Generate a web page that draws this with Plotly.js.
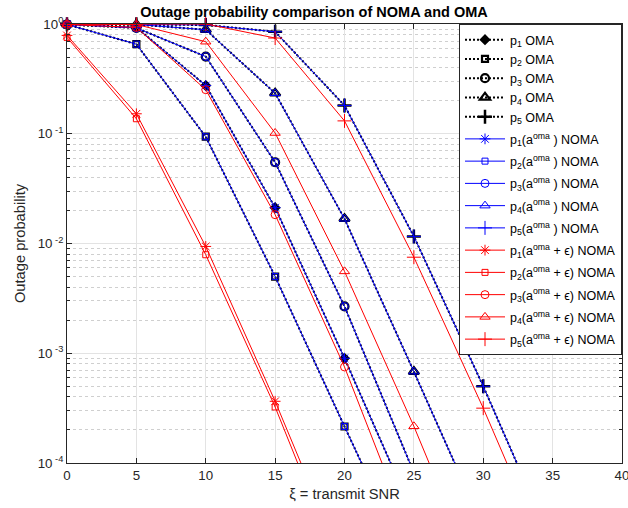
<!DOCTYPE html>
<html><head><meta charset="utf-8">
<script src="https://cdn.plot.ly/plotly-3.0.1.min.js"></script>
<style>html,body{margin:0;padding:0;background:#fff}#chart{width:628px;height:508px}</style>
</head><body><div id="chart"></div><script>
// transmit SNR (dB)
const snr = [0, 5, 10, 15, 20, 25, 30, 35];

// OMA outage probabilities (NOMA with a^oma power allocation coincides with OMA)
const omaP1 = [0.99, 0.93, 0.275, 0.0212, 9.0e-4, 3.3e-5, null, null];
const omaP2 = [0.99, 0.655, 0.094, 0.0050, 2.15e-4, 9.5e-6, null, null];
const omaP3 = [0.99, 0.92, 0.505, 0.055, 2.67e-3, 8.1e-5, 2.5e-6, null];
const omaP4 = [0.995, 0.99, 0.887, 0.234, 0.0168, 6.8e-4, 2.6e-5, null];
const omaP5 = [0.995, 0.995, 0.98, 0.85, 0.181, 0.0116, 5.0e-4, 1.8e-5];

const nomaP1 = omaP1.slice();
const nomaP2 = omaP2.slice();
const nomaP3 = omaP3.slice();
const nomaP4 = omaP4.slice();
const nomaP5 = omaP5.slice();

// NOMA with a^oma + epsilon
const epsP1 = [0.787, 0.152, 0.0094, 3.65e-4, 1.12e-5, null, null, null];
const epsP2 = [0.755, 0.137, 0.0079, 3.24e-4, 8.7e-6, null, null, null];
const epsP3 = [0.99, 0.93, 0.252, 0.0183, 7.5e-4, 1.8e-5, null, null];
const epsP4 = [0.995, 0.99, 0.69, 0.1016, 5.57e-3, 2.16e-4, 6.5e-6, null];
const epsP5 = [0.995, 0.995, 1.0, 0.745, 0.131, 7.5e-3, 3.16e-4, 1.07e-5];

const omaNames = ['p<sub>1</sub> OMA','p<sub>2</sub> OMA','p<sub>3</sub> OMA','p<sub>4</sub> OMA','p<sub>5</sub> OMA'];
const nomaNames = [1,2,3,4,5].map(i => 'p<sub>' + i + '</sub>(a<sup>oma</sup> ) NOMA');
const epsNames = [1,2,3,4,5].map(i => 'p<sub>' + i + '</sub>(a<sup>oma</sup> + ϵ) NOMA');

const xTickVals = [0, 5, 10, 15, 20, 25, 30, 35, 40];
const yTickVals = [1e-4, 1e-3, 1e-2, 1e-1, 1];
const yTickText = ['10<sup> -4</sup>','10<sup> -3</sup>','10<sup> -2</sup>','10<sup> -1</sup>','10<sup>0</sup>'];

const YMIN = 1e-4;
const minorVals = [];
for (let e = -4; e < 0; e++) for (let m = 2; m <= 9; m++) minorVals.push(m * Math.pow(10, e));

function colArr(vals, c) {
  return vals.map(v => (v != null && v >= YMIN) ? c : 'rgba(0,0,0,0)');
}
function mk(vals, name, group, lineStyle, symbol, size, color, mlw) {
  return {
    x: snr, y: vals, name: name, type: 'scatter', mode: 'lines+markers',
    legendgroup: group, cliponaxis: false,
    line: lineStyle,
    marker: { symbol: symbol, size: size, color: colArr(vals, color),
      line: { color: colArr(vals, color), width: mlw } }
  };
}

const omaSeries = [omaP1, omaP2, omaP3, omaP4, omaP5];
const nomaSeries = [nomaP1, nomaP2, nomaP3, nomaP4, nomaP5];
const epsSeries = [epsP1, epsP2, epsP3, epsP4, epsP5];

const omaSym = ['diamond','square-open','circle-open','triangle-up-open','cross-thin-open'];
const omaSize = [7, 6, 8, 9, 10];
const omaLw = [1.5, 2.2, 2.2, 2.2, 2.5];
const nomaSym = ['asterisk-open','square-open','circle-open','triangle-up-open','cross-thin-open'];
const nomaSize = [9, 6, 8, 9, 10];

const traces = [];
omaSeries.forEach((v, i) => traces.push(mk(v, omaNames[i], 'oma', {color:'#000000', width:2, dash:'2px,2px'}, omaSym[i], omaSize[i], '#000000', omaLw[i])));
nomaSeries.forEach((v, i) => traces.push(mk(v, nomaNames[i], 'noma' + i, {color:'#0000ff', width:1}, nomaSym[i], nomaSize[i], '#0000ff', 1)));
epsSeries.forEach((v, i) => traces.push(mk(v, epsNames[i], 'eps' + i, {color:'#ff0000', width:1}, nomaSym[i], nomaSize[i], '#ff0000', 1)));

const FONT = 'Liberation Sans, Arial, sans-serif';
const axCol = '#262626';
const layout = {
  width: 628, height: 508,
  margin: {l: 67, r: 6, t: 24, b: 45},
  paper_bgcolor: '#ffffff', plot_bgcolor: '#ffffff',
  font: {family: FONT, size: 13, color: axCol},
  showlegend: true,
  title: {text: '<b>Outage probability comparison of NOMA and OMA</b>',
    font: {family: FONT, size: 14.5, color: '#000000'},
    x: 0.5, xref: 'container', xanchor: 'center', y: 1 - 12/508, yref: 'container', yanchor: 'middle'},
  xaxis: {
    range: [0, 40], tickmode: 'array', tickvals: xTickVals,
    ticks: 'inside', ticklen: 5, tickcolor: axCol, showline: true, linecolor: axCol, linewidth: 1,
    mirror: 'ticks', showgrid: true, gridcolor: '#e3e3e3', gridwidth: 1, zeroline: false,
    ticklabeloverflow: 'allow',
    tickfont: {family: FONT, size: 13.3, color: axCol},
    title: {text: 'ξ = transmit SNR', font: {family: FONT, size: 14.7, color: axCol}, standoff: 6},
    automargin: false
  },
  yaxis: {
    type: 'log', range: [-4, 0], tickmode: 'array', tickvals: yTickVals, ticktext: yTickText,
    ticks: 'inside', ticklen: 5, tickcolor: axCol, showline: true, linecolor: axCol, linewidth: 1,
    mirror: 'ticks', showgrid: true, gridcolor: '#e3e3e3', gridwidth: 1, zeroline: false,
    tickfont: {family: FONT, size: 13.3, color: axCol},
    minor: {tickmode: 'array', tickvals: minorVals, ticks: 'inside', ticklen: 3, tickcolor: axCol,
      showgrid: true, gridcolor: '#cfcfcf', griddash: 'dot', gridwidth: 1},
    title: {text: 'Outage probability', font: {family: FONT, size: 14.7, color: axCol}, standoff: 8},
    automargin: false
  },
  legend: {
    x: 1, xanchor: 'right', y: 1, yanchor: 'top', xref: 'paper', yref: 'paper',
    bgcolor: '#ffffff', bordercolor: axCol, borderwidth: 1,
    font: {family: FONT, size: 12.5, color: '#000000'},
    tracegroupgap: 3, itemwidth: 40
  }
};
Plotly.newPlot('chart', traces, layout, {displayModeBar: false, staticPlot: true});
</script></body></html>
